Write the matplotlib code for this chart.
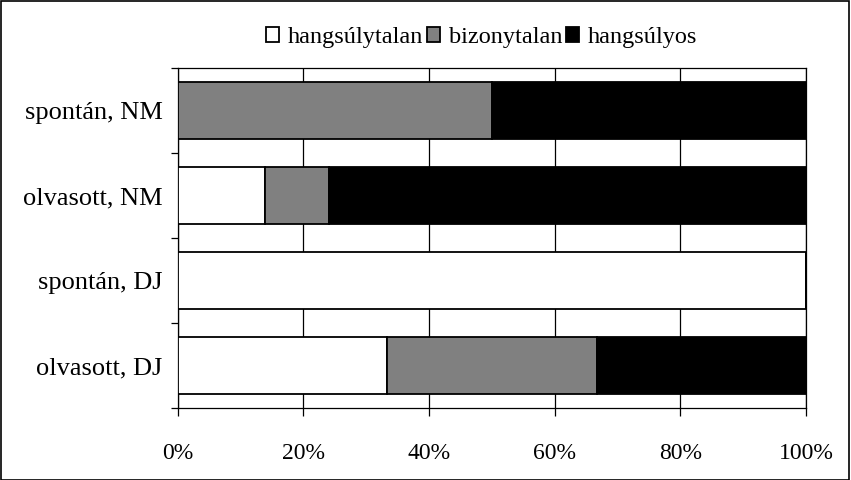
import numpy as np
import matplotlib
matplotlib.use('Agg')
import matplotlib.pyplot as plt
from matplotlib.patches import Rectangle
from matplotlib.ticker import FuncFormatter

plt.rcParams['font.family'] = ['Liberation Serif', 'DejaVu Serif']

categories = ['spontán, NM', 'olvasott, NM', 'spontán, DJ', 'olvasott, DJ']
series_names = ['hangsúlytalan', 'bizonytalan', 'hangsúlyos']
hangsulytalan = [0.0, 13.8, 100.0, 33.3]
bizonytalan = [50.0, 10.3, 0.0, 33.4]
hangsulyos = [50.0, 75.9, 0.0, 33.3]
colors = ['white', '#808080', 'black']
x_ticks = [0, 20, 40, 60, 80, 100]

fig = plt.figure(figsize=(8.51, 4.80), dpi=100)
ax = fig.add_axes([0.209, 0.15, 0.738, 0.708])

y = np.arange(len(categories))[::-1]
left = np.zeros(len(categories))
handles = []
for name, vals, c in zip(series_names, [hangsulytalan, bizonytalan, hangsulyos], colors):
    vals = np.array(vals)
    h = ax.barh(y, vals, left=left, height=0.67, color=c, edgecolor='black',
                linewidth=1.3, zorder=3, label=name)
    handles.append(h)
    left = left + vals

ax.set_xlim(0, 100)
ax.set_ylim(-0.5, len(categories) - 0.5)
ax.set_xticks(x_ticks)
ax.xaxis.set_major_formatter(FuncFormatter(lambda v, p: f'{v:.0f}%'))
ax.xaxis.grid(True, color='black', linewidth=0.9, zorder=0)
ax.set_axisbelow(True)

ax.set_yticks(y)
ax.set_yticklabels(categories)
ax.set_yticks(np.arange(len(categories) + 1) - 0.5, minor=True)
ax.tick_params(axis='y', which='major', length=0, pad=11, labelsize=19)
ax.tick_params(axis='y', which='minor', length=5, width=0.9, direction='out')
ax.tick_params(axis='x', length=6, width=0.9, direction='out', pad=19, labelsize=17)
for s in ax.spines.values():
    s.set_linewidth(0.9)
    s.set_color('black')

leg = fig.legend(handles=handles, labels=series_names, loc='center',
                 bbox_to_anchor=(0.566, 0.922), ncol=3, frameon=False,
                 fontsize=17.5, handlelength=0.55, handleheight=0.55,
                 handletextpad=0.35, columnspacing=0.15, borderpad=0)

fig.patches.append(Rectangle((0.001, 0.001), 0.997, 0.997, transform=fig.transFigure,
                             fill=False, edgecolor='black', linewidth=1.2))

fig.savefig('out.png', dpi=100)
